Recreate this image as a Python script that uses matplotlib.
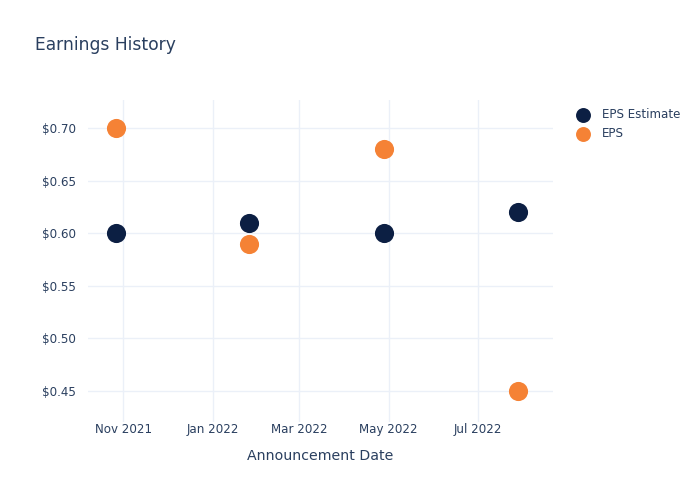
import matplotlib
matplotlib.use('Agg')
import matplotlib.pyplot as plt
import matplotlib.dates as mdates
from matplotlib.ticker import FuncFormatter
import numpy as np

# Earnings data
dates = np.array(['2021-10-27', '2022-01-26', '2022-04-28', '2022-07-28'], dtype='datetime64[D]')
eps_estimate = [0.60, 0.61, 0.60, 0.62]
eps_actual = [0.70, 0.59, 0.68, 0.45]
series_names = ['EPS Estimate', 'EPS']

text_color = '#2a3f5f'
grid_color = '#ebf0f8'
estimate_color = '#0c1f43'
eps_color = '#f58235'

plt.rcParams['font.family'] = ['DejaVu Sans']

fig = plt.figure(figsize=(7, 5), dpi=100)
ax = fig.add_axes([0.126, 0.156, 0.664, 0.644])

ax.scatter(dates, eps_estimate, s=190, color=estimate_color, label=series_names[0], zorder=3, linewidths=0)
ax.scatter(dates, eps_actual, s=190, color=eps_color, label=series_names[1], zorder=3, linewidths=0)

ax.set_xlim(np.datetime64('2021-10-08'), np.datetime64('2022-08-21'))
ax.set_ylim(0.4205, 0.7266)

ax.xaxis.set_major_locator(mdates.MonthLocator(bymonth=[1, 3, 5, 7, 9, 11]))
ax.xaxis.set_major_formatter(mdates.DateFormatter('%b %Y'))
ax.set_yticks([0.45, 0.50, 0.55, 0.60, 0.65, 0.70])
ax.yaxis.set_major_formatter(FuncFormatter(lambda v, p: f'${v:.2f}'))

ax.grid(True, color=grid_color, linewidth=1)
ax.set_axisbelow(True)
for s in ax.spines.values():
    s.set_visible(False)
ax.tick_params(length=0, colors=text_color, labelsize=8.6)
ax.tick_params(axis='x', pad=1)
ax.tick_params(axis='y', pad=9)

ax.set_xlabel('Announcement Date', color=text_color, fontsize=10.2, labelpad=9)
fig.text(0.05, 0.911, 'Earnings History', color=text_color, fontsize=12.3, va='center')

leg = ax.legend(loc='upper left', bbox_to_anchor=(1.022, 1.0), frameon=False,
                fontsize=8.6, labelcolor=text_color, handletextpad=0.6,
                labelspacing=0.55, borderaxespad=0.25, markerscale=0.78)

fig.savefig('out.png', dpi=100)
